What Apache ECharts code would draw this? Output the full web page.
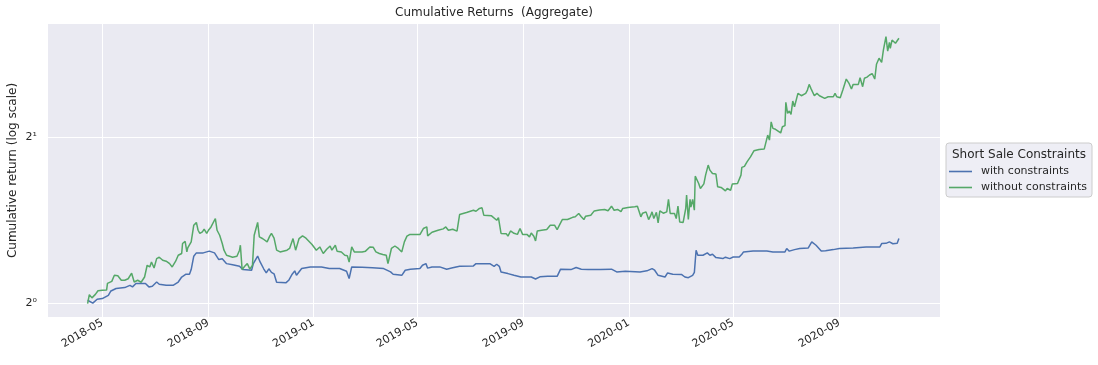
<!DOCTYPE html>
<html><head><meta charset="utf-8">
<script src="https://cdn.jsdelivr.net/npm/echarts@6/dist/echarts.min.js"></script>
<style>html,body{margin:0;padding:0;background:#fff}#c{width:1098px;height:365px}</style>
</head><body><div id="c"></div>
<script>
const titleText = 'Cumulative Returns  (Aggregate)';
const yAxisName = 'Cumulative return (log scale)';
const legendTitle = 'Short Sale Constraints';
const seriesNames = ['with constraints', 'without constraints'];
const xTickLabels = ['2018-05','2018-09','2019-01','2019-05','2019-09','2020-01','2020-05','2020-09'];
const yTickValues = [1, 2];
const yTickLabels = ['2\u2070', '2\u00B9'];

const blueDates = ['2018-04-14','2018-04-20','2018-04-25','2018-05-01','2018-05-08','2018-05-11','2018-05-17','2018-05-27','2018-06-02','2018-06-05','2018-06-09','2018-06-20','2018-06-24','2018-06-28','2018-07-03','2018-07-06','2018-07-14','2018-07-22','2018-07-28','2018-08-01','2018-08-06','2018-08-10','2018-08-12','2018-08-15','2018-08-18','2018-08-26','2018-09-02','2018-09-08','2018-09-13','2018-09-17','2018-09-22','2018-09-29','2018-10-07','2018-10-11','2018-10-21','2018-10-23','2018-10-28','2018-10-31','2018-11-04','2018-11-07','2018-11-10','2018-11-13','2018-11-16','2018-11-19','2018-11-30','2018-12-03','2018-12-07','2018-12-10','2018-12-12','2018-12-18','2018-12-28','2019-01-10','2019-01-19','2019-01-31','2019-02-08','2019-02-11','2019-02-14','2019-02-26','2019-03-10','2019-03-23','2019-03-31','2019-04-03','2019-04-13','2019-04-17','2019-04-23','2019-05-04','2019-05-07','2019-05-11','2019-05-13','2019-05-18','2019-05-27','2019-06-04','2019-06-11','2019-06-19','2019-07-05','2019-07-08','2019-07-24','2019-07-29','2019-08-01','2019-08-04','2019-08-06','2019-08-14','2019-08-21','2019-08-29','2019-09-10','2019-09-15','2019-09-20','2019-09-29','2019-10-10','2019-10-14','2019-10-26','2019-11-01','2019-11-07','2019-11-15','2019-11-29','2019-12-12','2019-12-18','2019-12-28','2020-01-14','2020-01-22','2020-01-28','2020-01-31','2020-02-04','2020-02-12','2020-02-15','2020-02-21','2020-03-02','2020-03-06','2020-03-10','2020-03-15','2020-03-17','2020-03-19','2020-03-21','2020-03-27','2020-04-01','2020-04-04','2020-04-07','2020-04-11','2020-04-19','2020-04-22','2020-04-27','2020-05-01','2020-05-08','2020-05-11','2020-05-13','2020-05-24','2020-06-09','2020-06-16','2020-06-30','2020-07-02','2020-07-05','2020-07-11','2020-07-17','2020-07-27','2020-07-31','2020-08-05','2020-08-11','2020-08-16','2020-08-25','2020-09-01','2020-09-17','2020-10-02','2020-10-18','2020-10-20','2020-10-25','2020-10-29','2020-11-02','2020-11-04','2020-11-07','2020-11-09'];
const blueValues = [1.014,1.002,1.018,1.021,1.035,1.054,1.065,1.069,1.079,1.072,1.087,1.087,1.072,1.075,1.094,1.084,1.079,1.079,1.094,1.117,1.130,1.130,1.152,1.218,1.235,1.235,1.244,1.235,1.201,1.205,1.181,1.175,1.168,1.152,1.149,1.181,1.219,1.188,1.156,1.136,1.156,1.139,1.132,1.093,1.091,1.102,1.130,1.146,1.125,1.157,1.165,1.165,1.157,1.157,1.144,1.110,1.165,1.163,1.161,1.157,1.141,1.130,1.125,1.149,1.154,1.157,1.173,1.181,1.159,1.165,1.165,1.154,1.161,1.168,1.170,1.181,1.181,1.168,1.178,1.168,1.141,1.133,1.125,1.117,1.117,1.108,1.118,1.120,1.120,1.154,1.152,1.162,1.154,1.152,1.152,1.154,1.141,1.144,1.141,1.146,1.157,1.149,1.125,1.117,1.136,1.130,1.129,1.117,1.114,1.125,1.139,1.249,1.223,1.223,1.235,1.223,1.228,1.211,1.206,1.213,1.206,1.214,1.214,1.228,1.240,1.245,1.245,1.240,1.240,1.258,1.244,1.252,1.258,1.261,1.293,1.275,1.245,1.246,1.252,1.258,1.261,1.266,1.266,1.284,1.285,1.293,1.283,1.279,1.285,1.311];

const greenDates = ['2018-04-14','2018-04-16','2018-04-19','2018-04-21','2018-04-23','2018-04-26','2018-05-01','2018-05-06','2018-05-07','2018-05-09','2018-05-12','2018-05-15','2018-05-19','2018-05-23','2018-05-27','2018-05-31','2018-06-04','2018-06-05','2018-06-07','2018-06-11','2018-06-15','2018-06-19','2018-06-22','2018-06-25','2018-06-27','2018-06-30','2018-07-03','2018-07-06','2018-07-10','2018-07-14','2018-07-18','2018-07-21','2018-07-25','2018-07-28','2018-08-01','2018-08-02','2018-08-05','2018-08-07','2018-08-08','2018-08-12','2018-08-15','2018-08-18','2018-08-20','2018-08-22','2018-08-25','2018-08-27','2018-08-30','2018-09-01','2018-09-04','2018-09-06','2018-09-09','2018-09-11','2018-09-14','2018-09-17','2018-09-19','2018-09-22','2018-09-29','2018-10-04','2018-10-07','2018-10-08','2018-10-10','2018-10-13','2018-10-16','2018-10-19','2018-10-22','2018-10-24','2018-10-28','2018-10-30','2018-11-03','2018-11-08','2018-11-11','2018-11-13','2018-11-16','2018-11-19','2018-11-23','2018-12-01','2018-12-04','2018-12-08','2018-12-11','2018-12-15','2018-12-19','2018-12-23','2018-12-30','2019-01-04','2019-01-08','2019-01-12','2019-01-16','2019-01-20','2019-01-22','2019-01-26','2019-01-28','2019-02-02','2019-02-06','2019-02-09','2019-02-11','2019-02-14','2019-02-17','2019-02-26','2019-03-02','2019-03-07','2019-03-11','2019-03-14','2019-03-18','2019-03-22','2019-03-26','2019-03-28','2019-04-01','2019-04-05','2019-04-09','2019-04-13','2019-04-16','2019-04-19','2019-04-22','2019-05-04','2019-05-08','2019-05-12','2019-05-13','2019-05-18','2019-05-25','2019-05-31','2019-06-03','2019-06-06','2019-06-11','2019-06-16','2019-06-19','2019-06-27','2019-07-05','2019-07-08','2019-07-12','2019-07-15','2019-07-17','2019-07-26','2019-08-01','2019-08-03','2019-08-06','2019-08-12','2019-08-14','2019-08-17','2019-08-21','2019-08-25','2019-08-28','2019-08-31','2019-09-05','2019-09-08','2019-09-10','2019-09-13','2019-09-15','2019-09-17','2019-09-22','2019-09-28','2019-10-02','2019-10-07','2019-10-10','2019-10-14','2019-10-16','2019-10-22','2019-10-28','2019-10-31','2019-11-04','2019-11-07','2019-11-10','2019-11-12','2019-11-18','2019-11-22','2019-11-28','2019-12-04','2019-12-08','2019-12-12','2019-12-15','2019-12-19','2019-12-23','2019-12-25','2019-12-31','2020-01-08','2020-01-11','2020-01-15','2020-01-17','2020-01-21','2020-01-24','2020-01-26','2020-01-28','2020-01-30','2020-02-02','2020-02-04','2020-02-06','2020-02-10','2020-02-14','2020-02-16','2020-02-18','2020-02-23','2020-02-25','2020-02-27','2020-02-29','2020-03-04','2020-03-07','2020-03-08','2020-03-10','2020-03-12','2020-03-13','2020-03-15','2020-03-17','2020-03-18','2020-03-22','2020-03-24','2020-03-28','2020-03-30','2020-04-02','2020-04-04','2020-04-07','2020-04-11','2020-04-13','2020-04-17','2020-04-19','2020-04-22','2020-04-24','2020-04-28','2020-04-30','2020-05-06','2020-05-10','2020-05-11','2020-05-14','2020-05-17','2020-05-21','2020-05-25','2020-05-31','2020-06-06','2020-06-08','2020-06-10','2020-06-12','2020-06-14','2020-06-16','2020-06-19','2020-06-25','2020-06-27','2020-06-30','2020-07-01','2020-07-03','2020-07-05','2020-07-07','2020-07-09','2020-07-11','2020-07-15','2020-07-19','2020-07-24','2020-07-26','2020-07-28','2020-07-30','2020-08-01','2020-08-03','2020-08-06','2020-08-09','2020-08-15','2020-08-19','2020-08-25','2020-08-27','2020-08-29','2020-09-02','2020-09-05','2020-09-09','2020-09-12','2020-09-15','2020-09-17','2020-09-23','2020-09-25','2020-09-28','2020-09-30','2020-10-03','2020-10-06','2020-10-09','2020-10-12','2020-10-14','2020-10-17','2020-10-20','2020-10-22','2020-10-25','2020-10-27','2020-10-29','2020-10-30','2020-11-01','2020-11-05','2020-11-07','2020-11-09'];
const greenValues = [1.000,1.038,1.024,1.022,1.039,1.055,1.057,1.058,1.088,1.079,1.097,1.125,1.123,1.102,1.102,1.109,1.135,1.144,1.094,1.102,1.093,1.117,1.173,1.165,1.189,1.160,1.206,1.213,1.198,1.193,1.181,1.165,1.193,1.223,1.232,1.284,1.296,1.240,1.261,1.293,1.386,1.402,1.357,1.339,1.348,1.363,1.339,1.357,1.376,1.367,1.425,1.357,1.329,1.284,1.249,1.223,1.213,1.218,1.249,1.275,1.152,1.168,1.181,1.154,1.173,1.329,1.402,1.320,1.310,1.293,1.324,1.339,1.313,1.249,1.240,1.249,1.258,1.311,1.249,1.311,1.326,1.313,1.279,1.249,1.266,1.232,1.254,1.271,1.249,1.275,1.244,1.240,1.223,1.220,1.189,1.266,1.240,1.240,1.244,1.266,1.264,1.240,1.232,1.227,1.223,1.181,1.258,1.271,1.258,1.240,1.293,1.324,1.333,1.333,1.367,1.376,1.326,1.346,1.357,1.365,1.376,1.357,1.363,1.352,1.449,1.461,1.475,1.469,1.486,1.490,1.445,1.441,1.415,1.430,1.339,1.338,1.324,1.353,1.340,1.334,1.367,1.334,1.334,1.320,1.342,1.324,1.298,1.353,1.357,1.361,1.386,1.386,1.361,1.399,1.419,1.419,1.432,1.436,1.455,1.436,1.419,1.439,1.445,1.471,1.477,1.480,1.472,1.500,1.475,1.480,1.466,1.486,1.492,1.496,1.500,1.435,1.457,1.465,1.419,1.439,1.465,1.425,1.462,1.399,1.471,1.457,1.465,1.543,1.455,1.455,1.425,1.500,1.405,1.402,1.486,1.571,1.419,1.543,1.494,1.543,1.475,1.700,1.649,1.615,1.646,1.707,1.780,1.743,1.719,1.715,1.626,1.622,1.630,1.599,1.615,1.603,1.646,1.649,1.707,1.763,1.771,1.804,1.842,1.889,1.900,1.904,1.915,2.017,1.975,2.131,2.074,2.066,2.035,2.088,2.098,2.311,2.208,2.229,2.199,2.324,2.269,2.399,2.376,2.399,2.433,2.491,2.450,2.467,2.376,2.399,2.376,2.350,2.366,2.366,2.399,2.366,2.356,2.433,2.547,2.505,2.443,2.491,2.491,2.561,2.467,2.555,2.568,2.590,2.606,2.547,2.708,2.777,2.731,2.874,3.038,2.862,2.968,2.895,2.996,2.956,2.956,3.018];

const P = s => echarts.time.parse(s);
const xTickValues = xTickLabels.map(s => P(s + '-01'));
const nearestIdx = (arr, v) => { let b = 0; arr.forEach((a, i) => { if (Math.abs(a - v) < Math.abs(arr[b] - v)) b = i; }); return b; };
const FONT = 'DejaVu Sans';
const TXT = '#262626';

const chart = echarts.init(document.getElementById('c'), null, {renderer: 'canvas'});
chart.setOption({
  animation: false,
  backgroundColor: '#ffffff',
  title: {
    text: titleText, left: 494, top: 7, textAlign: 'center', padding: 0,
    textStyle: {fontFamily: FONT, fontSize: 12, fontWeight: 'normal', color: TXT}
  },
  grid: {left: 48, right: 158, top: 24, bottom: 48, show: true, backgroundColor: '#EAEAF2', borderWidth: 0, containLabel: false, outerBoundsMode: 'none'},
  xAxis: {
    type: 'value',
    min: P('2018-02-27 02:24:00'),
    max: P('2020-12-26 14:24:00'),
    axisLine: {show: false},
    axisTick: {show: false, customValues: xTickValues},
    splitLine: {show: true, lineStyle: {color: '#ffffff', width: 1}},
    axisLabel: {
      customValues: xTickValues, rotate: 30, margin: 5,
      fontFamily: FONT, fontSize: 11, color: TXT,
      formatter: v => xTickLabels[nearestIdx(xTickValues, v)]
    }
  },
  yAxis: {
    type: 'log', logBase: 2,
    min: 0.9457, max: 3.203,
    name: yAxisName, nameLocation: 'middle', nameGap: 29, nameRotate: 90, nameMoveOverlap: false,
    nameTextStyle: {fontFamily: FONT, fontSize: 12, color: TXT},
    axisLine: {show: false},
    axisTick: {show: false, customValues: yTickValues},
    splitLine: {show: true, lineStyle: {color: '#ffffff', width: 1}},
    axisLabel: {
      customValues: yTickValues, margin: 11,
      fontFamily: FONT, fontSize: 11, color: TXT,
      formatter: v => yTickLabels[nearestIdx(yTickValues, v)]
    }
  },
  legend: {
    orient: 'vertical', left: 949, top: 166, padding: 0,
    icon: 'path://M0,0H23V1.6H0Z', itemWidth: 23, itemHeight: 1.6, itemGap: 5,
    data: seriesNames,
    textStyle: {fontFamily: FONT, fontSize: 11, color: TXT, padding: [0, 0, 0, 4]},
    z: 10
  },
  graphic: [
    {type: 'rect', x: 946, y: 143, shape: {x: 0, y: 0, width: 146, height: 54, r: 3}, style: {fill: '#EEEEF5', stroke: '#CCCCCC', lineWidth: 1}, z: 1},
    {type: 'text', x: 1019, y: 149, style: {text: legendTitle, textAlign: 'center', fontFamily: FONT, fontSize: 12, fill: TXT}, z: 2}
  ],
  series: [
    {name: seriesNames[0], type: 'line', symbol: 'none', data: blueDates.map((d, i) => [P(d), blueValues[i]]), lineStyle: {color: '#4C72B0', width: 1.5}, itemStyle: {color: '#4C72B0'}},
    {name: seriesNames[1], type: 'line', symbol: 'none', data: greenDates.map((d, i) => [P(d), greenValues[i]]), lineStyle: {color: '#55A868', width: 1.5}, itemStyle: {color: '#55A868'}}
  ]
});
</script>
</body></html>
